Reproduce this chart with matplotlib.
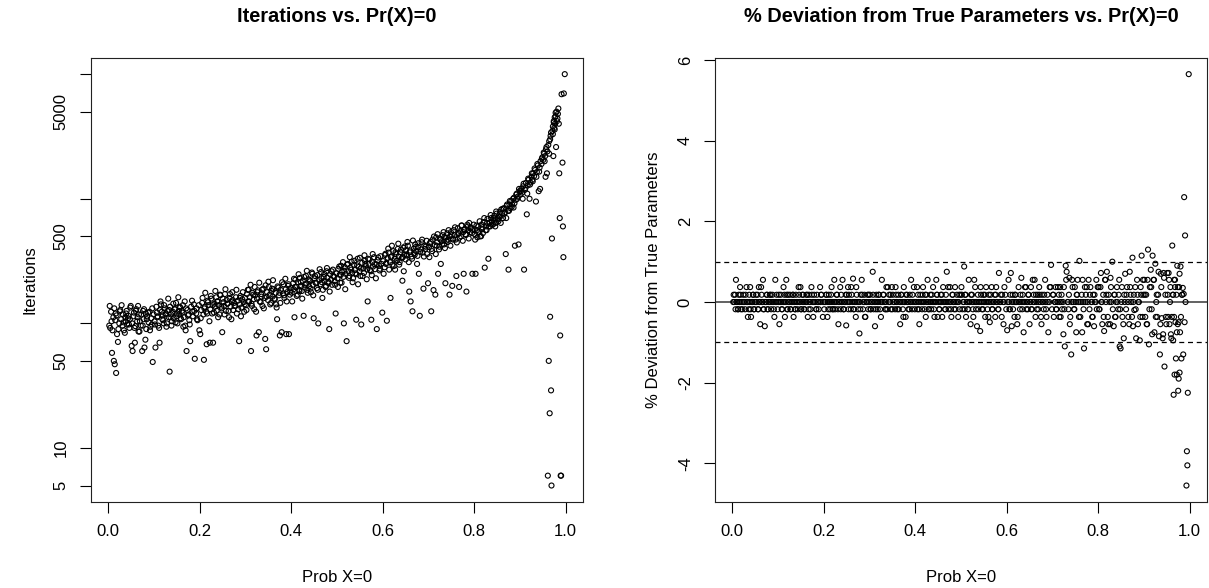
import matplotlib
matplotlib.use('Agg')
import matplotlib.pyplot as plt
import numpy as np

plt.rcParams['font.family'] = ['Liberation Sans', 'DejaVu Sans']

# probability that X = 0 (shared by both panels)
prob_x0 = [
    0.003, 0.004, 0.007, 0.008, 0.011, 0.012, 0.014, 0.016, 0.017, 0.019,
    0.021, 0.024, 0.025, 0.028, 0.031, 0.032, 0.034, 0.037, 0.038, 0.040,
    0.041, 0.044, 0.046, 0.047, 0.049, 0.052, 0.053, 0.056, 0.058, 0.059,
    0.061, 0.064, 0.066, 0.067, 0.069, 0.071, 0.074, 0.076, 0.077, 0.079,
    0.082, 0.083, 0.085, 0.088, 0.090, 0.091, 0.094, 0.095, 0.097, 0.099,
    # 0.1 - 0.2
    0.101, 0.103, 0.106, 0.107, 0.109, 0.112, 0.113, 0.115, 0.118, 0.119,
    0.121, 0.123, 0.126, 0.127, 0.129, 0.132, 0.134, 0.135, 0.137, 0.139,
    0.141, 0.143, 0.146, 0.148, 0.149, 0.151, 0.154, 0.155, 0.157, 0.159,
    0.162, 0.163, 0.165, 0.168, 0.169, 0.171, 0.173, 0.176, 0.177, 0.179,
    0.181, 0.184, 0.185, 0.187, 0.189, 0.192, 0.193, 0.195, 0.198, 0.199,
    # 0.2 - 0.3
    0.201, 0.203, 0.205, 0.208, 0.209, 0.211, 0.214, 0.215, 0.217, 0.219,
    0.222, 0.223, 0.225, 0.227, 0.229, 0.232, 0.233, 0.236, 0.237, 0.239,
    0.241, 0.243, 0.245, 0.248, 0.249, 0.252, 0.253, 0.255, 0.257, 0.259,
    0.261, 0.264, 0.265, 0.267, 0.270, 0.271, 0.273, 0.275, 0.278, 0.279,
    0.281, 0.283, 0.286, 0.287, 0.289, 0.291, 0.293, 0.296, 0.297, 0.299,
    # 0.3 - 0.4
    0.301, 0.303, 0.306, 0.307, 0.309, 0.312, 0.313, 0.315, 0.318, 0.319,
    0.321, 0.324, 0.325, 0.327, 0.329, 0.331, 0.334, 0.335, 0.337, 0.339,
    0.342, 0.343, 0.345, 0.347, 0.349, 0.351, 0.353, 0.356, 0.357, 0.359,
    0.361, 0.363, 0.366, 0.367, 0.369, 0.372, 0.373, 0.375, 0.377, 0.379,
    0.382, 0.383, 0.385, 0.388, 0.389, 0.391, 0.393, 0.395, 0.397, 0.399,
    # 0.4 - 0.5
    0.401, 0.404, 0.405, 0.407, 0.409, 0.411, 0.414, 0.415, 0.417, 0.419,
    0.422, 0.423, 0.425, 0.427, 0.429, 0.432, 0.433, 0.435, 0.438, 0.439,
    0.441, 0.443, 0.446, 0.447, 0.449, 0.451, 0.453, 0.456, 0.457, 0.459,
    0.461, 0.464, 0.465, 0.467, 0.469, 0.471, 0.473, 0.476, 0.477, 0.479,
    0.482, 0.483, 0.485, 0.487, 0.489, 0.491, 0.494, 0.495, 0.497, 0.499,
    # 0.5 - 0.6
    0.501, 0.503, 0.506, 0.507, 0.509, 0.511, 0.514, 0.515, 0.517, 0.519,
    0.521, 0.524, 0.525, 0.527, 0.529, 0.532, 0.533, 0.535, 0.537, 0.539,
    0.542, 0.543, 0.545, 0.548, 0.549, 0.551, 0.553, 0.555, 0.558, 0.559,
    0.561, 0.563, 0.566, 0.567, 0.569, 0.571, 0.574, 0.575, 0.577, 0.579,
    0.581, 0.583, 0.586, 0.587, 0.589, 0.592, 0.593, 0.595, 0.597, 0.599,
    # 0.6 - 0.7
    0.601, 0.604, 0.605, 0.607, 0.609, 0.611, 0.613, 0.616, 0.617, 0.619,
    0.621, 0.623, 0.626, 0.627, 0.629, 0.632, 0.633, 0.635, 0.637, 0.639,
    0.642, 0.643, 0.645, 0.647, 0.650, 0.651, 0.653, 0.655, 0.658, 0.659,
    0.661, 0.663, 0.665, 0.668, 0.669, 0.671, 0.673, 0.676, 0.677, 0.679,
    0.681, 0.684, 0.685, 0.687, 0.689, 0.691, 0.693, 0.696, 0.697, 0.699,
    # 0.7 - 0.8
    0.701, 0.703, 0.706, 0.707, 0.709, 0.711, 0.714, 0.715, 0.717, 0.719,
    0.721, 0.724, 0.725, 0.727, 0.729, 0.731, 0.734, 0.735, 0.737, 0.739,
    0.741, 0.743, 0.746, 0.747, 0.749, 0.752, 0.753, 0.755, 0.757, 0.759,
    0.761, 0.764, 0.765, 0.767, 0.769, 0.771, 0.773, 0.776, 0.777, 0.779,
    0.781, 0.783, 0.786, 0.787, 0.789, 0.791, 0.793, 0.796, 0.797, 0.799,
    # 0.8 - 0.9
    0.801, 0.803, 0.806, 0.807, 0.809, 0.811, 0.813, 0.816, 0.817, 0.819,
    0.821, 0.823, 0.826, 0.827, 0.829, 0.831, 0.834, 0.835, 0.837, 0.839,
    0.841, 0.844, 0.845, 0.847, 0.849, 0.851, 0.853, 0.856, 0.857, 0.859,
    0.861, 0.863, 0.865, 0.868, 0.869, 0.871, 0.874, 0.875, 0.877, 0.879,
    0.881, 0.883, 0.886, 0.887, 0.889, 0.891, 0.893, 0.895, 0.897, 0.899,
    # 0.9 - 1.0
    0.901, 0.903, 0.905, 0.907, 0.909, 0.911, 0.913, 0.915, 0.917, 0.919,
    0.921, 0.923, 0.925, 0.927, 0.929, 0.931, 0.933, 0.935, 0.937, 0.939,
    0.941, 0.943, 0.945, 0.947, 0.949, 0.951, 0.953, 0.955, 0.957, 0.959,
    0.961, 0.962, 0.963, 0.964, 0.965, 0.966, 0.967, 0.968, 0.969, 0.970,
    0.971, 0.972, 0.973, 0.974, 0.975, 0.976, 0.977, 0.978, 0.979, 0.980,
    0.982, 0.984, 0.986, 0.987, 0.988, 0.989, 0.990, 0.991, 0.993, 0.994,
    0.995, 0.996, 0.998,
    # second sweep
    0.002, 0.006, 0.009, 0.013, 0.015, 0.018, 0.022, 0.026, 0.029, 0.033,
    0.036, 0.039, 0.043, 0.045, 0.048, 0.051, 0.055, 0.057, 0.060, 0.063,
    0.065, 0.068, 0.072, 0.075, 0.078, 0.081, 0.084, 0.087, 0.092, 0.096,
    0.102, 0.105, 0.108, 0.111, 0.114, 0.117, 0.120, 0.122, 0.125, 0.128,
    0.131, 0.133, 0.136, 0.138, 0.142, 0.145, 0.147, 0.150, 0.153, 0.156,
    0.158, 0.161, 0.164, 0.167, 0.170, 0.174, 0.178, 0.183, 0.188, 0.194,
    0.202, 0.206, 0.210, 0.212, 0.216, 0.218, 0.221, 0.224, 0.228, 0.231,
    0.234, 0.238, 0.240, 0.244, 0.247, 0.250, 0.254, 0.256, 0.260, 0.263,
    0.266, 0.269, 0.272, 0.276, 0.280, 0.284, 0.288, 0.290, 0.294, 0.298,
    0.302, 0.305, 0.308, 0.311, 0.314, 0.317, 0.320, 0.323, 0.326, 0.330,
    0.333, 0.336, 0.340, 0.344, 0.346, 0.350, 0.354, 0.358, 0.360, 0.364,
    0.368, 0.370, 0.374, 0.376, 0.380, 0.384, 0.387, 0.390, 0.394, 0.398,
    0.402, 0.406, 0.408, 0.412, 0.416, 0.418, 0.421, 0.424, 0.428, 0.430,
    0.434, 0.436, 0.440, 0.442, 0.445, 0.448, 0.452, 0.455, 0.458, 0.462,
    0.466, 0.468, 0.472, 0.475, 0.478, 0.481, 0.484, 0.488, 0.492, 0.496,
    0.502, 0.505, 0.508, 0.510, 0.513, 0.516, 0.518, 0.522, 0.526, 0.528,
    0.531, 0.534, 0.538, 0.540, 0.544, 0.546, 0.550, 0.552, 0.556, 0.560,
    0.562, 0.565, 0.568, 0.572, 0.576, 0.578, 0.582, 0.585, 0.590, 0.594,
    0.602, 0.606, 0.608, 0.612, 0.614, 0.618, 0.620, 0.624, 0.628, 0.630,
    0.634, 0.636, 0.640, 0.644, 0.646, 0.648, 0.652, 0.654, 0.657, 0.660,
    0.664, 0.666, 0.670, 0.672, 0.675, 0.678, 0.682, 0.686, 0.690, 0.694,
    0.702, 0.705, 0.708, 0.712, 0.716, 0.718, 0.720, 0.723, 0.726, 0.730,
    0.733, 0.736, 0.738, 0.742, 0.744, 0.748, 0.751, 0.754, 0.758, 0.762,
    0.766, 0.768, 0.772, 0.775, 0.778, 0.782, 0.785, 0.788, 0.792, 0.795,
    0.802, 0.805, 0.808, 0.812, 0.815, 0.818, 0.822, 0.825, 0.828, 0.832,
    0.836, 0.838, 0.842, 0.846, 0.848, 0.852, 0.855, 0.858, 0.862, 0.866,
    0.870, 0.872, 0.876, 0.878, 0.882, 0.885, 0.888, 0.892, 0.894, 0.898,
    0.902, 0.906, 0.908, 0.912, 0.916, 0.918, 0.922, 0.926, 0.928, 0.932,
    0.936, 0.938, 0.942, 0.944, 0.948, 0.952, 0.954, 0.956, 0.958, 0.960,
    0.964, 0.966, 0.968, 0.972, 0.974, 0.976, 0.978, 0.981, 0.983, 0.985,
]

# number of iterations until convergence
iterations = [
    138, 92, 104, 58, 112, 50, 47, 120, 40, 82,
    71, 100, 125, 108, 96, 118, 88, 112, 104, 126,
    98, 115, 92, 108, 138, 100, 60, 122, 70, 95,
    130, 112, 86, 118, 104, 96, 60, 126, 108, 64,
    120, 90, 114, 102, 124, 88, 110, 98, 49, 118,
    # 0.1 - 0.2
    104, 64, 122, 112, 96, 70, 128, 142, 108, 116,
    100, 132, 120, 94, 126, 112, 41, 136, 118, 104,
    124, 110, 130, 146, 114, 100, 126, 118, 134, 108,
    122, 140, 112, 96, 88, 60, 128, 118, 106, 72,
    136, 124, 114, 142, 52, 120, 132, 106, 140, 88,
    # 0.2 - 0.3
    82, 128, 146, 118, 51, 136, 124, 68, 152, 140,
    70, 130, 158, 120, 70, 144, 136, 162, 126, 150,
    140, 118, 168, 132, 85, 148, 138, 172, 126, 154,
    144, 112, 160, 136, 150, 178, 128, 146, 138, 162,
    120, 152, 72, 142, 166, 134, 156, 148, 124, 160,
    # 0.3 - 0.4
    140, 172, 150, 186, 162, 60, 144, 176, 156, 130,
    168, 80, 158, 184, 85, 150, 172, 164, 138, 190,
    160, 75, 62, 178, 154, 196, 170, 146, 182, 164,
    188, 158, 176, 142, 108, 194, 168, 80, 186, 85,
    174, 206, 160, 188, 82, 178, 200, 82, 170, 192,
    # 0.4 - 0.5
    176, 210, 188, 112, 224, 196, 170, 214, 186, 232,
    200, 182, 220, 115, 194, 240, 208, 186, 226, 198,
    218, 178, 250, 204, 110, 230, 212, 192, 244, 100,
    222, 206, 258, 214, 186, 236, 220, 200, 262, 232,
    210, 90, 248, 224, 204, 270, 236, 218, 120, 252,
    # 0.5 - 0.6
    230, 274, 246, 212, 290, 258, 236, 100, 282, 250,
    72, 300, 262, 240, 280, 312, 254, 230, 296, 268,
    107, 248, 330, 284, 262, 240, 98, 306, 276, 254,
    318, 290, 270, 150, 300, 326, 262, 107, 310, 286,
    340, 272, 298, 90, 322, 290, 266, 346, 300, 122,
    # 0.6 - 0.7
    316, 282, 354, 300, 105, 336, 370, 310, 160, 344,
    296, 380, 330, 270, 360, 320, 396, 344, 310, 372,
    336, 220, 404, 356, 326, 388, 350, 420, 180, 372,
    150, 344, 125, 398, 366, 430, 380, 348, 410, 250,
    115, 392, 448, 370, 190, 420, 396, 460, 360, 210,
    # 0.7 - 0.8
    410, 440, 125, 396, 470, 185, 424, 170, 490, 446,
    250, 412, 480, 300, 456, 510, 430, 490, 210, 460,
    528, 470, 170, 500, 540, 200, 480, 560, 510, 470,
    240, 580, 520, 196, 550, 500, 610, 540, 250, 570,
    520, 180, 600, 560, 640, 540, 590, 250, 560, 620,
    # 0.8 - 0.9
    520, 250, 560, 490, 600, 540, 500, 620, 570, 530,
    650, 280, 600, 560, 690, 330, 640, 600, 700, 660,
    620, 730, 680, 640, 760, 700, 660, 780, 720, 820,
    760, 700, 840, 780, 360, 880, 800, 270, 900, 840,
    960, 900, 850, 1020, 420, 980, 1100, 1040, 430, 1150,
    # 0.9 - 1.0
    1080, 1200, 1120, 1260, 270, 1180, 1340, 750, 1280, 1420,
    1000, 1350, 1500, 1420, 1600, 1520, 1700, 950, 1640, 1850,
    1150, 1780, 2000, 1900, 2150, 2050, 2300, 2200, 2500, 1600,
    6, 2700, 50, 2900, 19, 113, 3200, 29, 5, 480,
    3500, 3800, 2200, 4200, 3700, 4500, 4000, 4900, 2600, 5000,
    4400, 5300, 1600, 700, 80, 6, 6, 6900, 1950, 600,
    340, 7000, 10000,
    # second sweep
    96, 124, 88, 132, 106, 116, 90, 128, 140, 102,
    84, 120, 110, 98, 134, 66, 114, 92, 126, 104,
    138, 86, 118, 96, 130, 74, 108, 122, 94, 132,
    98, 136, 114, 92, 150, 124, 106, 140, 118, 100,
    158, 128, 112, 96, 144, 130, 102, 120, 162, 136,
    110, 126, 94, 150, 132, 116, 98, 152, 126, 108,
    110, 160, 132, 176, 120, 148, 104, 166, 140, 122,
    182, 150, 112, 170, 136, 158, 118, 188, 144, 126,
    172, 108, 154, 138, 186, 130, 160, 114, 178, 142,
    128, 186, 150, 204, 138, 170, 196, 124, 178, 212,
    148, 186, 132, 202, 164, 216, 142, 190, 222, 156,
    134, 198, 176, 146, 214, 168, 228, 150, 206, 180,
    150, 228, 196, 166, 248, 182, 214, 158, 236, 204,
    264, 176, 222, 190, 256, 168, 240, 210, 186, 272,
    230, 160, 250, 196, 278, 216, 180, 262, 240, 204,
    196, 286, 244, 212, 310, 264, 188, 296, 232, 340,
    270, 214, 318, 252, 292, 206, 336, 276, 240, 352,
    300, 226, 330, 268, 244, 360, 298, 230, 338, 274,
    250, 362, 306, 398, 270, 340, 420, 288, 372, 318,
    436, 296, 390, 340, 262, 414, 358, 450, 310, 384,
    330, 462, 356, 410, 300, 440, 376, 470, 344, 412,
    340, 452, 380, 498, 360, 420, 520, 392, 470, 430,
    540, 402, 488, 450, 560, 420, 510, 470, 590, 446,
    530, 488, 610, 460, 560, 512, 620, 480, 580, 530,
    470, 610, 540, 660, 500, 590, 700, 560, 640, 600,
    740, 620, 700, 600, 790, 680, 720, 640, 830, 760,
    700, 900, 800, 960, 860, 1000, 920, 1080, 1000, 1200,
    1150, 1000, 1320, 1220, 1100, 1450, 1300, 1600, 1380, 1750,
    1500, 1900, 1650, 1200, 2100, 2350, 2000, 1500, 2600, 2400,
    2300, 3000, 3400, 3300, 4100, 3600, 4600, 4200, 4800, 4000,
]

# % deviation of the estimate from the true parameters
pct_deviation = [
    0.18, 0, -0.18, 0.55, 0, -0.18, 0.18, 0, 0.37, -0.18,
    0, 0.18, 0, -0.18, 0.37, 0, -0.37, 0.18, 0, -0.18,
    -0.37, 0, 0.18, -0.18, 0, 0.18, 0, -0.18, 0.37, 0,
    -0.55, 0.18, 0, 0.55, -0.18, -0.6, 0, 0.18, -0.18, 0,
    0.18, 0, -0.18, 0.18, 0, -0.18, 0.55, 0, 0.18, -0.18,
    # 0.1 - 0.2
    0, -0.55, 0.18, 0, -0.18, 0.37, 0, -0.37, 0.55, 0.18,
    -0.18, 0, 0.18, -0.18, 0, 0.18, -0.37, 0, -0.18, 0.18,
    0, -0.18, 0.18, 0, 0.37, -0.18, 0, 0.18, -0.18, 0,
    0.18, 0, -0.37, 0.18, 0, -0.18, 0.37, 0, -0.37, 0.18,
    0, -0.18, 0.18, 0, -0.18, 0.37, 0, 0.18, -0.37, 0,
    # 0.2 - 0.3
    -0.18, 0, 0.18, -0.37, 0, 0.18, -0.18, 0, 0.37, -0.18,
    0, 0.55, -0.18, 0, 0.18, -0.55, 0, 0.37, -0.18, 0,
    0.55, -0.18, 0, 0.18, -0.58, 0, 0.37, 0.18, 0, -0.18,
    0.18, 0.58, -0.18, 0, -0.37, 0.37, 0, -0.18, -0.78, 0,
    0.18, 0.55, -0.18, 0, 0.18, -0.37, 0, 0.18, -0.18, 0,
    # 0.3 - 0.4
    0.18, -0.18, 0, 0.75, -0.18, -0.6, 0, 0.18, -0.18, 0,
    0.18, 0, -0.37, 0.55, 0, 0.18, -0.18, 0, 0.37, -0.18,
    0, 0.18, 0, -0.18, 0.37, 0.18, 0, -0.18, 0.37, 0,
    -0.18, 0.18, 0, -0.55, 0.18, 0, -0.18, 0.37, 0, -0.37,
    0.18, 0, -0.18, 0.18, 0, 0.55, -0.18, 0, 0.37, -0.18,
    # 0.4 - 0.5
    0, 0.37, -0.18, 0, -0.55, 0.18, 0, -0.18, 0.37, 0,
    0.18, -0.37, 0, 0.55, -0.18, 0, 0.18, -0.18, 0, 0.37,
    -0.18, 0, 0.55, 0.18, -0.37, 0, -0.18, 0.18, 0, -0.37,
    0.37, 0, -0.18, 0.18, 0.75, 0, -0.18, 0.37, 0, -0.37,
    0.18, 0, -0.18, 0.37, 0, 0.18, -0.37, 0, -0.18, 0.18,
    # 0.5 - 0.6
    0.37, -0.18, 0, 0.88, 0.18, -0.37, 0, -0.18, 0.55, 0,
    -0.55, 0.18, 0, -0.37, 0.55, 0, -0.18, -0.6, 0.18, 0,
    -0.72, 0.37, 0, -0.18, 0.18, 0, -0.37, 0.37, -0.18, 0,
    0.18, -0.5, 0, 0.37, -0.18, 0, 0.18, -0.37, 0.37, 0,
    -0.18, 0.72, 0, 0.18, -0.37, 0, -0.55, 0.37, 0.18, -0.18,
    # 0.6 - 0.7
    -0.7, 0.55, 0, -0.18, 0.72, -0.6, 0.18, 0, -0.37, 0.18,
    0, -0.55, 0.37, 0, -0.18, 0.6, 0, 0.18, -0.75, 0,
    0.37, -0.18, 0, 0.18, -0.55, 0, 0.37, -0.18, 0, 0.18,
    0.55, -0.37, 0, 0.18, -0.18, 0.37, 0, -0.55, 0.18, 0,
    -0.18, 0.55, 0, -0.37, 0.18, -0.75, 0, 0.37, 0.92, -0.18,
    # 0.7 - 0.8
    0.18, -0.37, 0, 0.37, -0.18, 0, 0.18, -0.37, 0.37, 0,
    -0.18, -0.8, 0.37, -1.1, 0.9, 0.75, 0, -0.18, 0.6, -0.37,
    -1.3, 0.55, 0, -0.18, 0.37, -0.75, 0.18, 0.55, 0, 1.02,
    -0.37, 0.18, -0.75, 0, -1.15, 0.37, 0.18, -0.55, 0, 0.55,
    -0.18, 0.37, 0, -0.37, 0.18, -0.6, 0, 0.55, -0.18, 0.37,
    # 0.8 - 0.9
    0.37, -0.18, 0.72, 0, -0.55, 0.18, -0.72, 0.55, 0, 0.75,
    -0.37, 0.18, -0.55, 0.6, 0, 1.0, -0.6, 0.18, -0.37, 0,
    0.37, -0.18, 0.18, -1.1, -1.15, 0, -0.37, -0.9, 0.18, 0.7,
    -0.18, 0.37, 0, -0.55, 0.75, 0.18, -0.37, 1.1, 0, -0.2,
    0.37, -0.9, 0.18, -0.55, 0, -0.95, 0.37, 1.15, -0.37, 0.18,
    # 0.9 - 1.0
    0.55, -0.37, 0.18, -0.55, 1.3, -1.05, 0.37, 0.8, -0.18, 1.15,
    0.55, -0.75, 0.95, 0, -0.37, 0.18, -0.85, -1.3, 0.7, -0.4,
    -0.9, 0.72, -1.6, 0.18, -0.55, 0.72, -0.37, 0.55, 0, -0.8,
    -0.37, 1.4, 0.18, -0.95, -2.3, 0.55, -1.8, 0.37, -0.5, -1.4,
    0.18, -1.8, 0.9, -0.55, -2.2, -1.9, 0.37, -1.75, -0.75, 0.88,
    -1.4, 0.18, -1.3, 0.2, 2.6, -0.5, 1.65, 0, -4.55, -3.7,
    -4.05, -2.25, 5.65,
    # second sweep
    0, 0.18, 0, -0.18, 0, 0.18, -0.18, 0, 0.18, 0,
    -0.18, 0.37, 0, 0.18, -0.18, 0, 0.18, -0.18, 0, 0.37,
    0, -0.18, 0, 0.18, -0.18, 0, 0.18, 0, -0.37, 0,
    0.18, 0, -0.18, 0, 0.18, 0, -0.18, 0.18, 0, -0.18,
    0, 0.18, 0, -0.18, 0, 0.37, 0, -0.18, 0.18, 0,
    -0.18, 0, 0.18, -0.18, 0, 0.18, 0, -0.18, 0, 0.18,
    0, 0.18, -0.18, 0, 0.18, 0, -0.18, 0, 0.18, -0.18,
    0, 0.18, 0, -0.18, 0, 0.18, -0.18, 0, 0.37, 0,
    -0.18, 0, 0.18, 0, -0.18, 0.18, 0, -0.37, 0, 0.18,
    -0.18, 0, 0.18, 0, -0.18, 0, 0.18, -0.18, 0, 0.18,
    0, -0.18, 0.37, 0, 0.18, -0.18, 0, 0.18, 0, -0.18,
    0, 0.18, -0.37, 0, 0.18, 0, -0.18, 0, 0.18, 0,
    0, 0.18, -0.18, 0, 0.18, 0, -0.18, 0.18, 0, -0.18,
    0, 0.18, 0, -0.37, 0, 0.18, -0.18, 0, 0.18, 0,
    -0.18, 0, 0.37, 0, -0.18, 0.18, 0, -0.18, 0, 0.18,
    0.18, 0, -0.18, 0.18, 0, -0.18, 0, 0.18, -0.18, 0,
    0.37, 0, -0.18, 0, 0.18, -0.18, 0, 0.18, 0, -0.37,
    0, 0.18, -0.18, 0, 0.18, 0, -0.18, 0, 0.18, 0,
    0, -0.18, 0.18, 0, -0.18, 0.18, 0, -0.37, 0, 0.18,
    -0.18, 0, 0.37, 0, -0.18, 0.18, 0, -0.18, 0.55, 0,
    0.18, -0.18, 0, 0.18, -0.37, 0, 0.18, -0.18, 0, 0.37,
    0.18, 0, -0.18, 0.37, 0, -0.37, 0.18, 0, -0.18, 0.55,
    0, 0.18, -0.55, 0, 0.37, -0.18, 0, 0.18, -0.37, 0,
    0.55, -0.18, 0, 0.37, -0.55, 0.18, 0, -0.37, 0.18, 0,
    -0.18, 0.37, 0, -0.37, 0.55, 0.18, -0.55, 0, 0.37, -0.18,
    0.18, -0.37, 0, 0.55, -0.18, 0.37, -0.55, 0, 0.18, -0.37,
    0.37, 0, -0.6, 0.18, -0.18, 0.55, 0, -0.37, 0.18, 0.55,
    0.18, -0.55, 0.55, -0.18, 0.37, -0.8, 0.55, -0.37, 0.18, 0.75,
    -0.55, 0.37, -0.8, 0.6, -0.37, 0.18, 0.72, -0.55, 0.37, -0.9,
    0.18, -0.37, 0.55, -0.75, 0.37, -0.5, 0.7, -0.37, 0.18, 0.35,
]

x = np.array(prob_x0)
iters = np.array(iterations, dtype=float)
dev = np.array(pct_deviation)


def r_range(lo, hi):
    # R style axis: data range padded by 4% on each side
    pad = (hi - lo) * 0.04
    return lo - pad, hi + pad


fig = plt.figure(figsize=(12.09, 5.88), dpi=100)
ax1 = fig.add_axes([0.0753, 0.1463, 0.4069, 0.7556])
ax2 = fig.add_axes([0.5914, 0.1463, 0.4069, 0.7556])

point_style = dict(s=13, facecolors='none', edgecolors='black', linewidths=0.8)

# left panel: iterations (log scale)
ax1.scatter(x, iters, **point_style)
ax1.set_yscale('log')
lo, hi = r_range(np.log10(iters.min()), np.log10(iters.max()))
ax1.set_ylim(10 ** lo, 10 ** hi)
ax1.set_yticks([5, 10, 50, 100, 500, 1000, 5000, 10000])
ax1.set_yticklabels(['5', '10', '50', '', '500', '', '5000', ''])
ax1.yaxis.set_minor_locator(matplotlib.ticker.NullLocator())
ax1.set_title('Iterations vs. Pr(X)=0', fontsize=14.4, fontweight='bold', pad=26)
ax1.set_ylabel('Iterations', fontsize=12, labelpad=12)

# right panel: % deviation
ax2.axhline(0, color='#555555', linewidth=1.3, zorder=1)
ax2.axhline(1, color='black', linewidth=0.9, linestyle=(0, (4, 3)), zorder=1)
ax2.axhline(-1, color='black', linewidth=0.9, linestyle=(0, (4, 3)), zorder=1)
ax2.scatter(x, dev, zorder=2, **point_style)
ax2.set_ylim(*r_range(dev.min(), dev.max()))
ax2.set_yticks([-4, -2, 0, 2, 4, 6])
ax2.set_yticklabels(['-4', '-2', '0', '2', '4', '6'])
ax2.set_title('% Deviation from True Parameters vs. Pr(X)=0', fontsize=14.4,
              fontweight='bold', pad=26)
ax2.set_ylabel('% Deviation from True Parameters', fontsize=12, labelpad=12)

for ax in (ax1, ax2):
    ax.set_xlim(*r_range(x.min(), x.max()))
    ax.set_xticks([0, 0.2, 0.4, 0.6, 0.8, 1.0])
    ax.set_xticklabels(['0.0', '0.2', '0.4', '0.6', '0.8', '1.0'])
    ax.set_xlabel('Prob X=0', fontsize=12, labelpad=22)
    ax.tick_params(direction='out', length=8, width=0.8, labelsize=12, pad=8)
    ax.tick_params(axis='y', labelrotation=90)
    for lab in ax.get_yticklabels():
        lab.set_verticalalignment('center')
    for sp in ax.spines.values():
        sp.set_linewidth(0.8)
        sp.set_color('#222222')

fig.savefig('out.png', dpi=100)
